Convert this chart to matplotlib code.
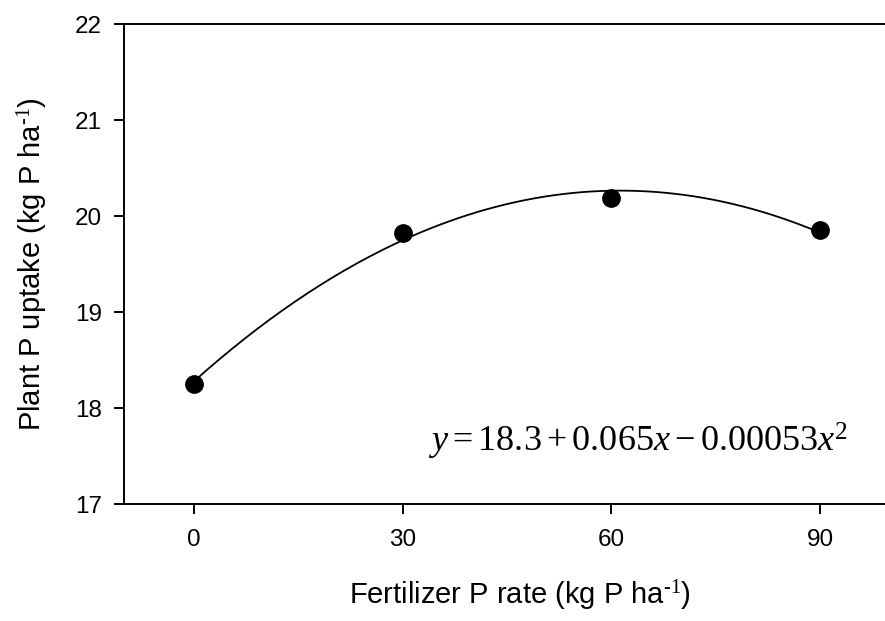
import numpy as np
import matplotlib.pyplot as plt

plt.rcParams['font.family'] = ['Liberation Sans', 'DejaVu Sans']
plt.rcParams['mathtext.fontset'] = 'custom'
plt.rcParams['mathtext.rm'] = 'Liberation Serif'
plt.rcParams['mathtext.it'] = 'Liberation Serif:italic'

# data
p_rate = [0, 30, 60, 90]
p_uptake = [18.25, 19.82, 20.19, 19.85]
x_ticks = [0, 30, 60, 90]
y_ticks = [17, 18, 19, 20, 21, 22]

fig = plt.figure(figsize=(8.85, 6.21), dpi=100)
ax = fig.add_axes([124 / 885, 1 - 504 / 621, (890 - 124) / 885, 480 / 621])

# quadratic fit
coef = np.polyfit(p_rate, p_uptake, 2)
xs = np.linspace(0, 90, 200)
ax.plot(xs, np.polyval(coef, xs), color='black', lw=1.3)
ax.plot(p_rate, p_uptake, 'o', color='black', markersize=12.5)

ax.set_xlim(-10, 100)
ax.set_ylim(17, 22)
ax.set_xticks(x_ticks)
ax.set_yticks(y_ticks)
ax.spines['right'].set_visible(False)
for s in ['left', 'bottom', 'top']:
    ax.spines[s].set_linewidth(1.4)
ax.tick_params(direction='out', length=7, width=1.4, labelsize=17.5)
ax.tick_params(axis='y', pad=9)
ax.tick_params(axis='x', pad=11)

sup = r'$^{\text{-1}}$'
ax.set_xlabel('Fertilizer P rate (kg P ha' + sup + ')', fontsize=21)
ax.set_ylabel('Plant P uptake (kg P ha' + sup + ')', fontsize=21, labelpad=18)
ax.xaxis.set_label_coords(0.517, -0.155)

ax.text(0.397, 0.13, r'$y=18.3+0.065x-0.00053x^2$', transform=ax.transAxes,
        fontsize=26, ha='left', va='center')

fig.savefig('out.png', dpi=100)
